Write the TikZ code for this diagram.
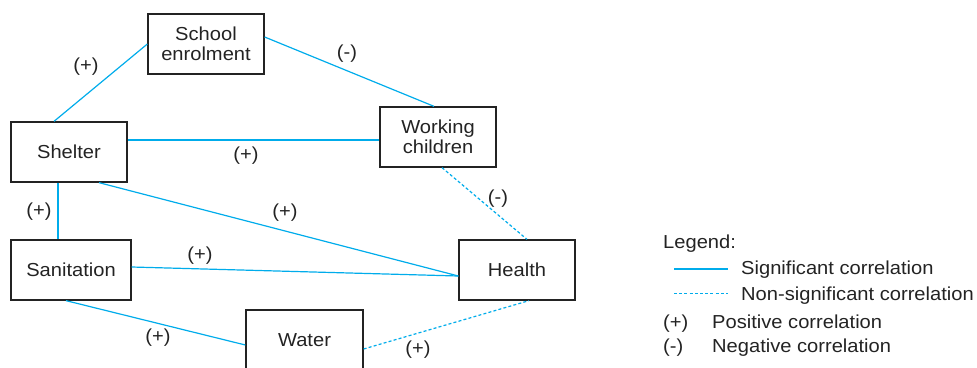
\documentclass[tikz,border=0pt]{standalone}
\usepackage{fontspec}
\setmainfont{Liberation Sans}[FakeStretch=1.07]
\definecolor{cline}{RGB}{0,172,235}
\definecolor{boxc}{RGB}{35,35,35}
\begin{document}
\begin{tikzpicture}[x=1pt,y=-1pt,
  every node/.style={font=\fontsize{18.8}{20.5}\selectfont, text=boxc},
  box/.style={draw=boxc, line width=1.3pt, minimum width=116pt, minimum height=60pt, align=center, inner sep=0pt},
  sig/.style={draw=cline, line width=1.2pt},
  nsig/.style={draw=cline, line width=1.2pt, dash pattern=on 3pt off 2.2pt},
  lab/.style={inner sep=0pt},
  leglab/.style={inner sep=0pt, anchor=base west}]
\useasboundingbox (0,0) rectangle (977,367);
\node[box] (school) at (206,44) {School\\enrolment};
\node[box] (shelter) at (69,152) {Shelter};
\node[box] (working) at (438,137) {Working\\children};
\node[box, minimum width=120pt] (sanit) at (71,270) {Sanitation};
\node[box] (health) at (517,270) {Health};
\node[box, minimum width=117pt] (water) at (304.5,340) {Water};
% connectors
\draw[sig] ([xshift=-15pt]shelter.north) -- (school.west);
\draw[sig] ([yshift=7pt]school.east) -- ([xshift=-4pt]working.north);
\draw[sig] ([yshift=12pt]shelter.east) -- ([yshift=-3pt]working.west);
\draw[sig] ([xshift=-11pt]shelter.south) -- ([xshift=-13pt]sanit.north);
\draw[sig] ([xshift=30pt]shelter.south) -- ([yshift=-6pt]health.west);
\draw[sig] ([yshift=3pt]sanit.east) -- ([yshift=-6pt]health.west);
\draw[nsig] ([xshift=4pt]working.south) -- ([xshift=10pt]health.north);
\draw[sig] ([xshift=-5pt]sanit.south) -- ([yshift=-5pt]water.west);
\draw[nsig] ([yshift=-9pt]water.east) -- ([xshift=12pt]health.south);
% labels
\node[lab] (l1) at (86,67) {(+)};
\node[lab] (l2) at (347,54) {(-)};
\node[lab] (l3) at (246,156) {(+)};
\node[lab] (l4) at (39,212) {(+)};
\node[lab] (l5) at (285,213) {(+)};
\node[lab] (l6) at (200,256) {(+)};
\node[lab] (l7) at (498,199) {(-)};
\node[lab] (l8) at (158,338) {(+)};
\node[lab] (l9) at (418,350) {(+)};
% legend
\node[leglab] (leg) at (663,248.5) {Legend:};
\coordinate (s1) at (674,269); \coordinate (s2) at (728,269);
\draw[sig] (s1) -- (s2);
\node[leglab] (sigt) at (741,274.5) {Significant correlation};
\coordinate (n1) at (674,293.5); \coordinate (n2) at (728,293.5);
\draw[nsig] (n1) -- (n2);
\node[leglab] (nsigt) at (741,300) {Non-significant correlation};
\node[leglab] (pos) at (663,328) {(+)};
\node[leglab] (post) at (712,328) {Positive correlation};
\node[leglab] (neg) at (663,352.5) {(-)};
\node[leglab] (negt) at (712,352.5) {Negative correlation};
\end{tikzpicture}
\end{document}
